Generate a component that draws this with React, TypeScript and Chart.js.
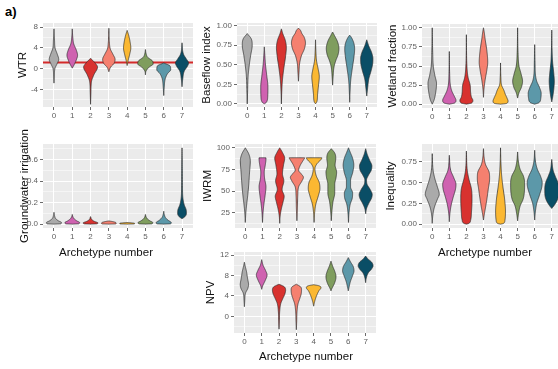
import React, { useEffect, useRef } from 'react';
import { Chart, registerables } from 'chart.js';

Chart.register(...registerables);

type Knot = [number, number];

// ---------- shared categories ----------
const archetypes = ['0', '1', '2', '3', '4', '5', '6', '7'];
const archetypeColors = ['#AAAAAA', '#CF62B0', '#D8322F', '#F5806F', '#FBB832', '#7F9D5E', '#5C98A9', '#0A4E66'];
const xAxisTitle = 'Archetype number';

// Each violin: list of [value, half-width in category units], from bottom tip to top tip.

// ---------- WTR ----------
const wtrTicks = [-4, 0, 4, 8];
const wtrTickLabels = ['-4', '0', '4', '8'];
const wtrMinorTicks = [-6, -2, 2, 6];
const wtrRange = [-7.42, 8.83];
const wtrReference = 1.2;
const wtrViolins: Knot[][] = [
  [[-2.8, 0], [-1.5, 0.02], [0, 0.05], [0.8, 0.15], [1.8, 0.26], [2.8, 0.18], [4, 0.06], [5.5, 0.03], [7.7, 0]],
  [[0.1, 0], [0.6, 0.08], [1.5, 0.2], [2.6, 0.29], [3.6, 0.22], [4.8, 0.08], [6, 0.03], [7.7, 0]],
  [[-6.9, 0], [-4.5, 0.02], [-2.5, 0.05], [-1.2, 0.18], [0.3, 0.38], [1.2, 0.22], [2.0, 0]],
  [[-0.6, 0], [0.3, 0.1], [1.0, 0.28], [1.8, 0.34], [2.8, 0.22], [3.8, 0.08], [5, 0.03], [7.8, 0]],
  [[0.6, 0], [1.5, 0.05], [2.8, 0.14], [4.0, 0.2], [5.2, 0.16], [6.5, 0.08], [7.4, 0]],
  [[-1.2, 0], [-0.5, 0.03], [0.3, 0.2], [0.9, 0.42], [1.5, 0.38], [2.2, 0.12], [3, 0.03], [3.7, 0]],
  [[-5.2, 0], [-3.5, 0.03], [-2.0, 0.08], [-1.0, 0.2], [-0.2, 0.38], [0.5, 0.35], [1.1, 0]],
  [[-3.5, 0], [-2, 0.04], [-0.5, 0.12], [0.5, 0.3], [1.1, 0.36], [1.8, 0.25], [2.8, 0.08], [5.0, 0]],
];

// ---------- Baseflow index ----------
const baseflowTicks = [0, 0.25, 0.5, 0.75, 1];
const baseflowTickLabels = ['0.00', '0.25', '0.50', '0.75', '1.00'];
const baseflowMinorTicks = [0.125, 0.375, 0.625, 0.875];
const baseflowRange = [-0.04, 1.035];
const baseflowViolins: Knot[][] = [
  [[0, 0], [0.15, 0.02], [0.35, 0.05], [0.5, 0.12], [0.62, 0.2], [0.75, 0.29], [0.83, 0.24], [0.9, 0]],
  [[0, 0], [0.02, 0.12], [0.1, 0.2], [0.22, 0.21], [0.35, 0.15], [0.5, 0.07], [0.62, 0.03], [0.73, 0]],
  [[0, 0], [0.15, 0.02], [0.3, 0.06], [0.45, 0.14], [0.6, 0.24], [0.72, 0.29], [0.82, 0.22], [0.9, 0.08], [0.96, 0]],
  [[0.29, 0], [0.4, 0.03], [0.52, 0.07], [0.62, 0.18], [0.7, 0.34], [0.78, 0.41], [0.86, 0.32], [0.9, 0.2], [0.94, 0.12], [0.97, 0]],
  [[0, 0], [0.03, 0.08], [0.12, 0.12], [0.25, 0.18], [0.35, 0.22], [0.45, 0.15], [0.55, 0.06], [0.68, 0.02], [0.82, 0]],
  [[0.24, 0], [0.35, 0.03], [0.47, 0.08], [0.55, 0.18], [0.63, 0.32], [0.71, 0.37], [0.8, 0.28], [0.87, 0.12], [0.92, 0]],
  [[0.02, 0], [0.15, 0.02], [0.3, 0.06], [0.45, 0.15], [0.6, 0.25], [0.7, 0.29], [0.78, 0.24], [0.85, 0.1], [0.88, 0]],
  [[0.1, 0], [0.2, 0.05], [0.32, 0.12], [0.42, 0.25], [0.52, 0.35], [0.58, 0.36], [0.66, 0.28], [0.74, 0.12], [0.82, 0]],
];

// ---------- Wetland fraction ----------
const wetlandTicks = [0, 0.25, 0.5, 0.75, 1];
const wetlandTickLabels = ['0.00', '0.25', '0.50', '0.75', '1.00'];
const wetlandMinorTicks = [0.125, 0.375, 0.625, 0.875];
const wetlandRange = [-0.05, 1.05];
const wetlandViolins: Knot[][] = [
  [[0, 0], [0.05, 0.1], [0.15, 0.2], [0.27, 0.25], [0.38, 0.15], [0.5, 0.06], [0.65, 0.03], [1.0, 0]],
  [[0, 0], [0.015, 0.3], [0.05, 0.39], [0.1, 0.3], [0.17, 0.15], [0.25, 0.06], [0.4, 0.02], [0.69, 0]],
  [[0, 0], [0.015, 0.3], [0.05, 0.38], [0.09, 0.3], [0.15, 0.25], [0.25, 0.22], [0.35, 0.1], [0.5, 0.03], [0.91, 0]],
  [[0.09, 0], [0.2, 0.03], [0.32, 0.1], [0.45, 0.2], [0.55, 0.25], [0.7, 0.2], [0.85, 0.1], [0.95, 0.04], [1.0, 0]],
  [[0, 0], [0.01, 0.35], [0.04, 0.44], [0.08, 0.38], [0.13, 0.28], [0.18, 0.2], [0.25, 0.06], [0.35, 0.02], [0.54, 0]],
  [[0.08, 0], [0.15, 0.08], [0.22, 0.22], [0.3, 0.29], [0.4, 0.2], [0.5, 0.08], [0.65, 0.03], [1.0, 0]],
  [[0, 0], [0.02, 0.25], [0.08, 0.36], [0.14, 0.38], [0.22, 0.28], [0.3, 0.12], [0.4, 0.04], [0.55, 0.02], [0.78, 0]],
  [[0.03, 0], [0.1, 0.06], [0.2, 0.12], [0.3, 0.15], [0.4, 0.12], [0.55, 0.05], [0.7, 0.02], [0.97, 0]],
];

// ---------- Groundwater irrigation ----------
const gwTicks = [0, 0.2, 0.4, 0.6];
const gwTickLabels = ['0.0', '0.2', '0.4', '0.6'];
const gwMinorTicks = [0.1, 0.3, 0.5, 0.7];
const gwRange = [-0.036, 0.746];
const gwViolins: Knot[][] = [
  [[0, 0], [0.003, 0.38], [0.015, 0.41], [0.03, 0.25], [0.05, 0.1], [0.08, 0.03], [0.11, 0]],
  [[0, 0], [0.003, 0.36], [0.015, 0.4], [0.03, 0.25], [0.05, 0.1], [0.07, 0.03], [0.09, 0]],
  [[0, 0], [0.003, 0.36], [0.012, 0.4], [0.025, 0.22], [0.04, 0.08], [0.07, 0]],
  [[0, 0], [0.002, 0.38], [0.01, 0.4], [0.02, 0.3], [0.03, 0]],
  [[0, 0], [0.002, 0.4], [0.008, 0.4], [0.015, 0]],
  [[0, 0], [0.003, 0.36], [0.015, 0.4], [0.03, 0.25], [0.05, 0.1], [0.07, 0.03], [0.09, 0]],
  [[0, 0], [0.003, 0.38], [0.015, 0.41], [0.035, 0.25], [0.06, 0.1], [0.09, 0.03], [0.12, 0]],
  [[0.05, 0], [0.07, 0.16], [0.1, 0.24], [0.13, 0.23], [0.18, 0.12], [0.24, 0.05], [0.33, 0.025], [0.5, 0.015], [0.71, 0]],
];

// ---------- IWRM ----------
const iwrmTicks = [25, 50, 75, 100];
const iwrmTickLabels = ['25', '50', '75', '100'];
const iwrmMinorTicks = [12.5, 37.5, 62.5, 87.5];
const iwrmRange = [7.6, 104.4];
const iwrmViolins: Knot[][] = [
  [[14, 0], [25, 0.03], [35, 0.08], [45, 0.14], [58, 0.2], [70, 0.24], [85, 0.29], [93, 0.2], [100, 0]],
  [[14, 0], [25, 0.03], [35, 0.08], [45, 0.15], [55, 0.2], [65, 0.12], [72, 0.1], [80, 0.16], [87, 0.2], [88.5, 0.2], [88.6, 0]],
  [[13, 0], [22, 0.03], [30, 0.1], [38, 0.2], [44, 0.26], [52, 0.14], [62, 0.24], [70, 0.16], [80, 0.22], [88, 0.29], [95, 0.15], [100, 0]],
  [[16, 0], [30, 0.03], [45, 0.05], [55, 0.1], [62, 0.3], [66, 0.38], [70, 0.25], [74, 0.1], [80, 0.2], [86, 0.38], [88.5, 0.45], [88.6, 0]],
  [[14, 0], [25, 0.03], [35, 0.1], [45, 0.25], [53, 0.34], [60, 0.3], [68, 0.12], [76, 0.05], [82, 0.18], [86, 0.38], [88.5, 0.45], [88.6, 0]],
  [[16, 0], [28, 0.04], [38, 0.1], [48, 0.2], [58, 0.2], [66, 0.28], [72, 0.31], [80, 0.22], [88, 0.26], [94, 0.2], [99, 0]],
  [[14, 0], [25, 0.03], [35, 0.1], [42, 0.22], [48, 0.24], [55, 0.12], [62, 0.12], [72, 0.25], [80, 0.31], [88, 0.24], [95, 0.1], [100, 0]],
  [[24, 0], [30, 0.05], [36, 0.18], [42, 0.34], [46, 0.38], [52, 0.26], [58, 0.08], [63, 0.05], [68, 0.15], [74, 0.32], [79, 0.36], [86, 0.22], [93, 0.08], [99, 0]],
];

// ---------- Inequality ----------
const inequalityTicks = [0, 0.25, 0.5, 0.75];
const inequalityTickLabels = ['0.00', '0.25', '0.50', '0.75'];
const inequalityMinorTicks = [0.125, 0.375, 0.625, 0.875];
const inequalityRange = [-0.046, 0.966];
const inequalityViolins: Knot[][] = [
  [[0.01, 0], [0.1, 0.03], [0.2, 0.12], [0.3, 0.3], [0.36, 0.41], [0.45, 0.3], [0.55, 0.15], [0.65, 0.05], [0.85, 0]],
  [[0.03, 0], [0.12, 0.03], [0.22, 0.1], [0.32, 0.22], [0.42, 0.36], [0.48, 0.39], [0.56, 0.26], [0.65, 0.08], [0.83, 0]],
  [[0, 0], [0.01, 0.15], [0.05, 0.25], [0.15, 0.3], [0.3, 0.33], [0.42, 0.3], [0.55, 0.14], [0.65, 0.05], [0.88, 0]],
  [[0.05, 0], [0.12, 0.05], [0.2, 0.12], [0.3, 0.2], [0.42, 0.28], [0.55, 0.36], [0.62, 0.34], [0.72, 0.12], [0.8, 0.04], [0.91, 0]],
  [[0, 0], [0.01, 0.18], [0.05, 0.26], [0.15, 0.29], [0.3, 0.24], [0.45, 0.14], [0.6, 0.06], [0.75, 0.02], [0.92, 0]],
  [[0.04, 0], [0.12, 0.05], [0.22, 0.15], [0.3, 0.32], [0.4, 0.4], [0.5, 0.41], [0.58, 0.34], [0.66, 0.15], [0.75, 0.05], [0.87, 0]],
  [[0.05, 0], [0.15, 0.04], [0.25, 0.12], [0.35, 0.28], [0.45, 0.42], [0.5, 0.44], [0.58, 0.34], [0.66, 0.16], [0.75, 0.05], [0.89, 0]],
  [[0.19, 0], [0.22, 0.12], [0.28, 0.3], [0.35, 0.4], [0.42, 0.41], [0.5, 0.36], [0.58, 0.2], [0.65, 0.08], [0.78, 0]],
];

// ---------- NPV ----------
const npvTicks = [0, 4, 8, 12];
const npvTickLabels = ['0', '4', '8', '12'];
const npvMinorTicks = [-2, 2, 6, 10];
const npvRange = [-3.25, 12.6];
const npvViolins: Knot[][] = [
  [[1.9, 0], [3, 0.02], [4.5, 0.06], [5.5, 0.2], [6.2, 0.24], [7.5, 0.18], [8.8, 0.12], [9.8, 0.05], [10.6, 0]],
  [[5.3, 0], [6, 0.06], [7, 0.2], [8.1, 0.31], [9, 0.22], [10, 0.08], [11.1, 0]],
  [[-2.5, 0], [-1, 0.02], [1, 0.04], [2.5, 0.1], [3.5, 0.22], [4.4, 0.34], [5.1, 0.38], [5.8, 0.3], [6.3, 0]],
  [[-2.6, 0], [-1, 0.02], [1, 0.04], [2.5, 0.1], [3.5, 0.2], [4.4, 0.28], [5.2, 0.3], [5.8, 0.24], [6.3, 0]],
  [[2.0, 0], [2.8, 0.05], [3.6, 0.12], [4.3, 0.2], [5.0, 0.3], [5.6, 0.42], [6.0, 0.3], [6.2, 0]],
  [[5.0, 0], [5.5, 0.06], [6.3, 0.18], [7.2, 0.27], [7.8, 0.29], [8.8, 0.22], [9.8, 0.1], [10.8, 0]],
  [[5.0, 0], [5.8, 0.05], [6.8, 0.12], [8, 0.25], [8.9, 0.33], [9.8, 0.28], [10.6, 0.14], [11.5, 0]],
  [[6.6, 0], [7.5, 0.04], [8.5, 0.15], [9.3, 0.35], [9.9, 0.43], [10.6, 0.35], [11.2, 0.15], [11.8, 0]],
];

// ---------- styling / layout ----------
const FONT = '"Liberation Sans", Arial, Helvetica, sans-serif';
const PANEL_BG = '#EBEBEB';
const TICK_TEXT = '#606060';
const TICK_MARK = '#444444';
const TITLE_COLOR = '#111111';
const OUTLINE = '#2B2B2B';
const REF_COLOR = '#D42A2A';
const X_MIN = -0.6;
const X_MAX = 7.6;
const PAD_RIGHT = 3;
const TITLE_SIZE = 11.5;

// box: plot area (l,t,r,b), y-title centre x (tx), x-axis band height (bh), top padding (pt), x-title centre x (xtx)
type Box = { l: number; t: number; r: number; b: number; tx: number; bh: number; pt: number; xtx?: number };
type PanelCfg = {
  key: string;
  title: string;
  ticks: number[];
  tickLabels: string[];
  minor: number[];
  range: number[];
  violins: Knot[][];
  refLine?: number;
  box: Box;
};

const panels: PanelCfg[] = [
  { key: 'wtr', title: 'WTR', ticks: wtrTicks, tickLabels: wtrTickLabels, minor: wtrMinorTicks, range: wtrRange, violins: wtrViolins, refLine: wtrReference, box: { l: 43, t: 23, r: 193, b: 107, tx: 23, bh: 14, pt: 10 } },
  { key: 'baseflow', title: 'Baseflow index', ticks: baseflowTicks, tickLabels: baseflowTickLabels, minor: baseflowMinorTicks, range: baseflowRange, violins: baseflowViolins, box: { l: 237, t: 23, r: 377, b: 107, tx: 207, bh: 14, pt: 10 } },
  { key: 'wetland', title: 'Wetland fraction', ticks: wetlandTicks, tickLabels: wetlandTickLabels, minor: wetlandMinorTicks, range: wetlandRange, violins: wetlandViolins, box: { l: 422, t: 24, r: 562, b: 108, tx: 393, bh: 14, pt: 11 } },
  { key: 'gw', title: 'Groundwater irrigation', ticks: gwTicks, tickLabels: gwTickLabels, minor: gwMinorTicks, range: gwRange, violins: gwViolins, box: { l: 43, t: 144, r: 193, b: 228, tx: 25, bh: 31, pt: 20, xtx: 106 } },
  { key: 'iwrm', title: 'IWRM', ticks: iwrmTicks, tickLabels: iwrmTickLabels, minor: iwrmMinorTicks, range: iwrmRange, violins: iwrmViolins, box: { l: 235, t: 144, r: 376, b: 228, tx: 208, bh: 14, pt: 10 } },
  { key: 'inequality', title: 'Inequality', ticks: inequalityTicks, tickLabels: inequalityTickLabels, minor: inequalityMinorTicks, range: inequalityRange, violins: inequalityViolins, box: { l: 422, t: 144, r: 562, b: 228, tx: 391, bh: 31, pt: 10, xtx: 485 } },
  { key: 'npv', title: 'NPV', ticks: npvTicks, tickLabels: npvTickLabels, minor: npvMinorTicks, range: npvRange, violins: npvViolins, box: { l: 234, t: 252, r: 376, b: 333, tx: 211, bh: 30, pt: 10, xtx: 306 } },
];

// Monotone cubic (Fritsch–Carlson) interpolation of the half-width profile
function sampleProfile(knots: Knot[], steps = 12): Knot[] {
  const n = knots.length;
  const xs = knots.map((k) => k[0]);
  const ys = knots.map((k) => k[1]);
  const d: number[] = [];
  for (let i = 0; i < n - 1; i++) d.push((ys[i + 1] - ys[i]) / (xs[i + 1] - xs[i]));
  const m: number[] = new Array(n).fill(0);
  m[0] = d[0];
  m[n - 1] = d[n - 2];
  for (let i = 1; i < n - 1; i++) m[i] = d[i - 1] * d[i] <= 0 ? 0 : (d[i - 1] + d[i]) / 2;
  for (let i = 0; i < n - 1; i++) {
    if (d[i] === 0) {
      m[i] = 0;
      m[i + 1] = 0;
      continue;
    }
    const a = m[i] / d[i];
    const b = m[i + 1] / d[i];
    const s = a * a + b * b;
    if (s > 9) {
      const t = 3 / Math.sqrt(s);
      m[i] = t * a * d[i];
      m[i + 1] = t * b * d[i];
    }
  }
  const out: Knot[] = [];
  for (let i = 0; i < n - 1; i++) {
    const h = xs[i + 1] - xs[i];
    for (let k = 0; k < steps; k++) {
      const t = k / steps;
      const t2 = t * t;
      const t3 = t2 * t;
      const w =
        (2 * t3 - 3 * t2 + 1) * ys[i] +
        (t3 - 2 * t2 + t) * h * m[i] +
        (-2 * t3 + 3 * t2) * ys[i + 1] +
        (t3 - t2) * h * m[i + 1];
      out.push([xs[i] + t * h, Math.max(0, w)]);
    }
  }
  out.push([xs[n - 1], ys[n - 1]]);
  return out;
}

const panelBackground = {
  id: 'panelBackground',
  beforeDraw(chart: any) {
    const { ctx, chartArea: a } = chart;
    ctx.save();
    ctx.fillStyle = PANEL_BG;
    ctx.fillRect(a.left, a.top, a.right - a.left, a.bottom - a.top);
    ctx.restore();
  },
};

// Axis titles drawn without Chart.js' maxWidth squeeze (long titles overhang the panel as in ggplot)
function axisTitleLayer(yText: string, xText: string | null, xCentre: number) {
  return {
    id: 'axisTitleLayer',
    afterDraw(chart: any) {
      const { ctx, chartArea: a } = chart;
      const sy = chart.scales.y;
      const sx = chart.scales.x;
      ctx.save();
      ctx.fillStyle = TITLE_COLOR;
      ctx.font = `${TITLE_SIZE}px ${FONT}`;
      ctx.textAlign = 'center';
      ctx.textBaseline = 'middle';
      ctx.save();
      ctx.translate(sy.left + 6, (a.top + a.bottom) / 2);
      ctx.rotate(-Math.PI / 2);
      ctx.fillText(yText, 0, 0);
      ctx.restore();
      if (xText) ctx.fillText(xText, xCentre, sx.bottom - 6);
      ctx.restore();
    },
  };
}

function violinLayer(violins: Knot[][]) {
  return {
    id: 'violinLayer',
    afterDatasetsDraw(chart: any) {
      const { ctx, chartArea: a } = chart;
      const sx = chart.scales.x;
      const sy = chart.scales.y;
      ctx.save();
      ctx.beginPath();
      ctx.rect(a.left, a.top, a.right - a.left, a.bottom - a.top);
      ctx.clip();
      violins.forEach((knots, i) => {
        const pts = sampleProfile(knots);
        ctx.beginPath();
        pts.forEach(([v, w], k) => {
          const px = sx.getPixelForValue(i + w);
          const py = sy.getPixelForValue(v);
          if (k === 0) ctx.moveTo(px, py);
          else ctx.lineTo(px, py);
        });
        for (let k = pts.length - 1; k >= 0; k--) {
          const [v, w] = pts[k];
          ctx.lineTo(sx.getPixelForValue(i - w), sy.getPixelForValue(v));
        }
        ctx.closePath();
        ctx.fillStyle = archetypeColors[i];
        ctx.fill();
        ctx.strokeStyle = OUTLINE;
        ctx.lineWidth = 0.7;
        ctx.lineJoin = 'round';
        ctx.stroke();
      });
      ctx.restore();
    },
  };
}

function Panel({ p }: { p: PanelCfg }) {
  const ref = useRef<HTMLCanvasElement>(null);
  const { l, t, r, b, tx, bh, pt, xtx } = p.box;
  const cL = tx - 6;
  const cT = t - pt;
  const cW = r + PAD_RIGHT - cL;
  const cH = b + bh - cT;

  useEffect(() => {
    const canvas = ref.current;
    if (!canvas) return;
    const datasets: any[] = [];
    if (p.refLine !== undefined) {
      datasets.push({
        data: [
          { x: X_MIN, y: p.refLine },
          { x: X_MAX, y: p.refLine },
        ],
        showLine: true,
        borderColor: REF_COLOR,
        borderWidth: 2,
        pointRadius: 0,
      });
    }
    const yTicks = [
      ...p.ticks.map((v, i) => ({ value: v, label: p.tickLabels[i], minor: false })),
      ...p.minor.filter((v) => v > p.range[0] && v < p.range[1]).map((v) => ({ value: v, label: '', minor: true })),
    ].sort((a, c) => a.value - c.value);

    const chart = new Chart(canvas, {
      type: 'scatter',
      data: { datasets },
      options: {
        responsive: false,
        animation: false,
        devicePixelRatio: 1,
        layout: { padding: { top: pt, right: PAD_RIGHT, left: 0, bottom: 0 } },
        plugins: { legend: { display: false }, tooltip: { enabled: false } },
        scales: {
          x: {
            type: 'linear',
            min: X_MIN,
            max: X_MAX,
            bounds: 'data',
            afterBuildTicks: (s: any) => {
              s.ticks = archetypes.map((_, i) => ({ value: i }));
            },
            afterFit: (s: any) => {
              s.height = bh;
            },
            ticks: {
              autoSkip: false,
              maxRotation: 0,
              padding: 1,
              color: TICK_TEXT,
              font: { size: 8, family: FONT },
              callback: (v: any) => archetypes[Math.round(Number(v))] ?? '',
            },
            grid: { color: '#FFFFFF', lineWidth: 1, tickLength: 3, tickColor: TICK_MARK, tickWidth: 0.8 },
            border: { display: false },
            title: { display: false },
          },
          y: {
            type: 'linear',
            min: p.range[0],
            max: p.range[1],
            bounds: 'data',
            afterBuildTicks: (s: any) => {
              s.ticks = yTicks.map((tk) => ({ ...tk }));
            },
            afterFit: (s: any) => {
              s.width = l - cL;
            },
            ticks: {
              autoSkip: false,
              padding: 2,
              color: TICK_TEXT,
              font: { size: 8, family: FONT },
              callback: (_v: any, i: number) => yTicks[i]?.label ?? '',
            },
            grid: {
              color: '#FFFFFF',
              lineWidth: (ctx: any) => (ctx.tick && ctx.tick.minor ? 0.5 : 1),
              tickLength: 3,
              tickColor: (ctx: any) => (ctx.tick && ctx.tick.minor ? 'rgba(0,0,0,0)' : TICK_MARK),
              tickWidth: 0.8,
            },
            border: { display: false },
            title: { display: false },
          },
        },
      } as any,
      plugins: [
        panelBackground,
        violinLayer(p.violins),
        axisTitleLayer(p.title, xtx !== undefined ? xAxisTitle : null, (xtx ?? 0) - cL),
      ],
    });
    return () => chart.destroy();
  }, []);

  return (
    <canvas
      ref={ref}
      width={cW}
      height={cH}
      style={{ position: 'absolute', left: cL, top: cT, width: cW, height: cH }}
    />
  );
}

export default function App() {
  return (
    <div
      style={{
        position: 'fixed',
        left: 0,
        top: 0,
        width: 558,
        height: 369,
        overflow: 'hidden',
        background: '#FFFFFF',
        fontFamily: FONT,
      }}
    >
      <div
        style={{
          position: 'absolute',
          left: 5,
          top: 5,
          fontSize: 13,
          lineHeight: '14px',
          fontWeight: 'bold',
          color: '#000',
        }}
      >
        a)
      </div>
      {panels.map((p) => (
        <Panel key={p.key} p={p} />
      ))}
    </div>
  );
}
